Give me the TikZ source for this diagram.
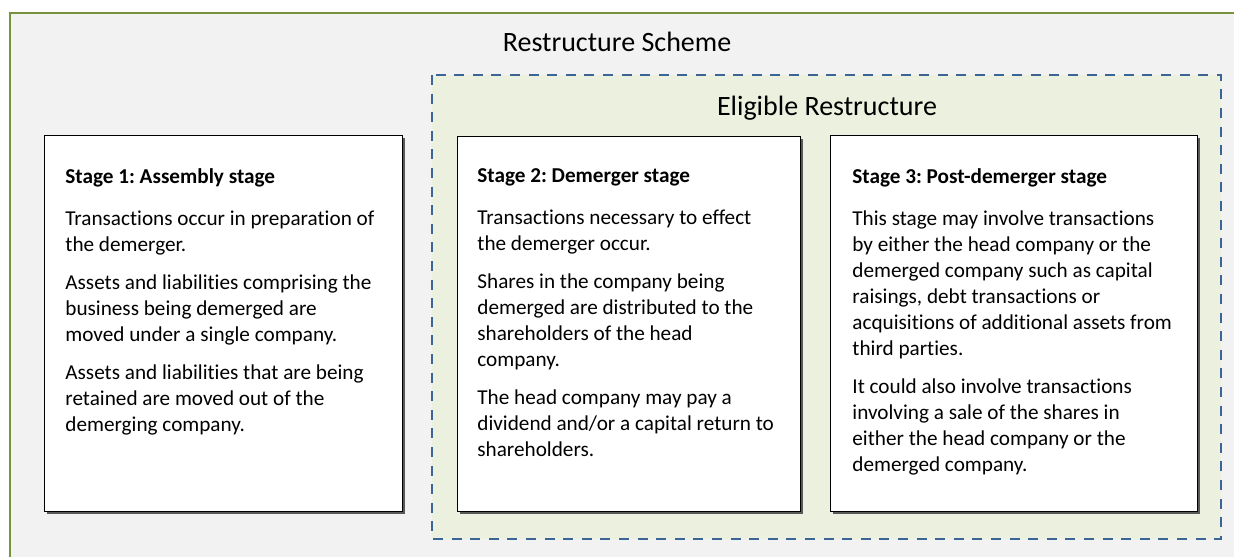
\documentclass[tikz,border=0pt]{standalone}
\usepackage{fontspec}
\setmainfont{Carlito}[Ligatures=NoCommon]
\frenchspacing
\usetikzlibrary{shadows}
\definecolor{framegreen}{HTML}{77933C}
\definecolor{schemegray}{HTML}{F2F2F2}
\definecolor{eligiblefill}{HTML}{EBF1DE}
\definecolor{eligibleblue}{HTML}{3C6496}

\begin{document}
\begin{tikzpicture}[x=0.5pt,y=-0.5pt,
  stagebox/.style={draw=black, line width=0.7pt, fill=white, anchor=north west, inner sep=0pt,
    general shadow={fill=black!65, shadow xshift=0.9pt, shadow yshift=-0.9pt}},
  stagetext/.style={anchor=north west, inner sep=0pt, align=left, font=\fontsize{10.6}{13}\selectfont},
  title/.style={font=\fontsize{14}{16}\selectfont}]

\useasboundingbox (0,0) rectangle (1234,556);
\clip (0,0) rectangle (1234,556);
\fill[white] (0,0) rectangle (1234,556);

\draw[framegreen, fill=schemegray, line width=1.2pt] (10,13) rectangle (1280,600);
\draw[eligibleblue, fill=eligiblefill, line width=1.4pt, dash pattern=on 5pt off 4.3pt] (432,75) rectangle (1221,539);

\node[title] (scheme) at (617,42) {Restructure Scheme};
\node[title] (eligible) at (827,108) {Eligible Restructure};

\node[stagebox, minimum width=179pt, minimum height=188pt] (assembly) at (44,135) {};
\node[stagebox, minimum width=171.5pt, minimum height=187.5pt] (demerger) at (457,136) {};
\node[stagebox, minimum width=183.5pt, minimum height=188pt] (postdemerger) at (830,135) {};

\node[stagetext] (assemblytext) at (65,168) {\textbf{Stage 1: Assembly stage}\\[8pt]
Transactions occur in preparation of\\
the demerger.\\[6pt]
Assets and liabilities comprising the\\
business being demerged are\\
moved under a single company.\\[6pt]
Assets and liabilities that are being\\
retained are moved out of the\\
demerging company.};

\node[stagetext] (demergertext) at (477,168) {\textbf{Stage 2: Demerger stage}\\[8pt]
Transactions necessary to effect\\
the demerger occur.\\[6pt]
Shares in the company being\\
demerged are distributed to the\\
shareholders of the head\\
company.\\[6pt]
The head company may pay a\\
dividend and/or a capital return to\\
shareholders.};

\node[stagetext] (postdemergertext) at (852,168) {\textbf{Stage 3: Post-demerger stage}\\[8pt]
This stage may involve transactions\\
by either the head company or the\\
demerged company such as capital\\
raisings, debt transactions or\\
acquisitions of additional assets from\\
third parties.\\[6pt]
It could also involve transactions\\
involving a sale of the shares in\\
either the head company or the\\
demerged company.};

\end{tikzpicture}
\end{document}
